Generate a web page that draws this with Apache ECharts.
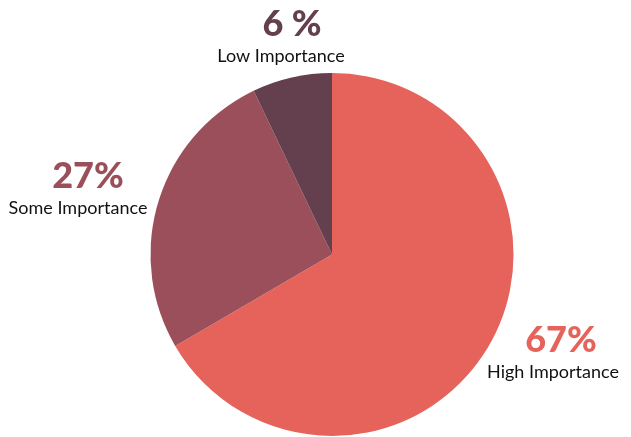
<!DOCTYPE html>
<html><head><meta charset="utf-8">
<script src="https://cdn.jsdelivr.net/npm/echarts@6/dist/echarts.min.js"></script>
<style>html,body{margin:0;padding:0;background:#fff}#c{width:631px;height:437px}</style>
</head><body><div id="c"></div>
<script>
const categories = ['High Importance', 'Some Importance', 'Low Importance'];
const values = [66.6, 26.3, 7.1];
const pctLabels = ['67%', '27%', '6 %'];
const colors = ['#E5635A', '#9B4F5A', '#643F4E'];
const labelPos = [[553, 318], [78, 154], [281, 2]];
const pctShift = [16, 20, 22];

const chart = echarts.init(document.getElementById('c'), null, {renderer: 'canvas'});
chart.setOption({
  animation: false,
  series: [{
    type: 'pie',
    center: [332, 254.5],
    radius: 181.5,
    startAngle: 90,
    clockwise: true,
    avoidLabelOverlap: false,
    labelLine: {show: false},
    itemStyle: {borderWidth: 0},
    emphasis: {disabled: true},
    data: categories.map((n, i) => ({
      name: n, value: values[i],
      itemStyle: {color: colors[i]},
      label: {
        show: true,
        formatter: '{p|' + pctLabels[i] + '}\n{n|' + n + '}',
        rich: {
          p: {fontFamily: 'Lato', fontWeight: 900, fontSize: 36, color: colors[i], lineHeight: 44, padding: [0, 0, 0, pctShift[i]]},
          n: {fontFamily: 'Lato', fontSize: 18, color: '#111', lineHeight: 20}
        }
      }
    })),
    labelLayout: function (p) {
      const pos = labelPos[p.dataIndex];
      return {x: pos[0], y: pos[1], align: 'center', verticalAlign: 'top', draggable: false};
    }
  }]
});
</script></body></html>
